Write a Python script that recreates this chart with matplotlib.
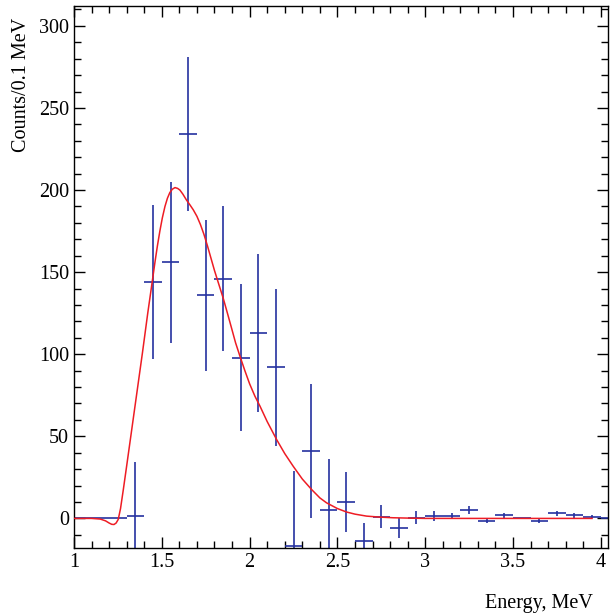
import matplotlib.pyplot as plt
from matplotlib.ticker import MultipleLocator

# Bin centres (MeV), counts and errors per 0.1 MeV
energia = [1.05, 1.15, 1.25, 1.35, 1.45, 1.55, 1.65, 1.75, 1.85, 1.95,
           2.05, 2.15, 2.25, 2.35, 2.45, 2.55, 2.65, 2.75, 2.85, 2.95,
           3.05, 3.15, 3.25, 3.35, 3.45, 3.55, 3.65, 3.75, 3.85, 3.95, 4.05]
contagens = [0, 0, 0, 1.5, 144, 156, 234, 136, 146, 98,
             113, 92, -17, 41, 5, 10, -14, 1, -6, 0.4,
             1.5, 1.5, 5, -1.5, 1.8, 0.3, -1.5, 3, 1.8, 1, 0]
erros = [0, 0, 0, 33, 47, 49, 47, 46, 44, 45,
         48, 48, 46, 41, 31, 18, 11, 7, 6, 4,
         3, 2, 2.5, 1, 1.5, 0, 1, 1.5, 1.5, 1, 0]

# Fit curve
ajuste_x = [1.00, 1.10, 1.15, 1.18, 1.20, 1.215, 1.228, 1.24, 1.252, 1.265,
            1.281, 1.30, 1.33, 1.36, 1.39, 1.42, 1.44, 1.461, 1.475, 1.489,
            1.503, 1.518, 1.532, 1.546, 1.56, 1.575, 1.59, 1.603, 1.62, 1.64,
            1.66, 1.679, 1.70, 1.72, 1.74, 1.76, 1.78, 1.80, 1.825, 1.85,
            1.875, 1.897, 1.92, 1.945, 1.973, 2.00, 2.03, 2.059, 2.10, 2.154,
            2.20, 2.248, 2.30, 2.353, 2.40, 2.438, 2.50, 2.552, 2.60, 2.666,
            2.74, 2.817, 2.90, 3.0, 3.5, 3.95]
ajuste_y = [0, 0, -0.4, -1.5, -2.8, -3.6, -3.7, -2.8, -0.6, 6,
            17.6, 32, 55, 78, 101, 125, 140, 156, 166, 175,
            183, 190, 195, 198.5, 200.5, 201.5, 201, 200, 197.5, 194,
            191, 188, 184, 179, 173, 166, 158.5, 151, 142.5, 134,
            124.5, 116, 107, 98.8, 90, 82, 74.5, 68.4, 59, 48,
            39.5, 31.8, 24, 17.6, 12.5, 9.5, 6, 3.9, 2.6, 1.4,
            0.8, 0.4, 0.2, 0, 0, 0]

def criar_grafico():
    plt.rcParams['font.family'] = ['Liberation Serif', 'DejaVu Serif']
    fig = plt.figure(figsize=(6.14, 6.15), dpi=100)
    ax = fig.add_axes([0.1205, 0.109, 0.8695, 0.881])

    ax.errorbar(energia, contagens, yerr=erros, xerr=0.05, fmt='none',
                ecolor='#25319f', elinewidth=1.2, capsize=0, zorder=2)
    ax.plot(ajuste_x, ajuste_y, color='#ee1c24', lw=1.1, zorder=3)

    ax.set_xlim(1, 4.04)
    ax.set_ylim(-18, 312)
    ax.xaxis.set_minor_locator(MultipleLocator(0.1))
    ax.yaxis.set_major_locator(MultipleLocator(50))
    ax.yaxis.set_minor_locator(MultipleLocator(10))
    ax.set_xticks([1, 1.5, 2, 2.5, 3, 3.5, 4])
    ax.set_xticklabels(['1', '1.5', '2', '2.5', '3', '3.5', '4'])

    ax.tick_params(which='both', direction='in', top=True, right=True,
                   labelsize=14.5, width=1)
    ax.tick_params(which='major', length=8)
    ax.tick_params(which='minor', length=5)
    for s in ax.spines.values():
        s.set_linewidth(1)

    ax.set_xlabel('Energy, MeV', fontsize=14.5)
    ax.xaxis.set_label_coords(0.972, -0.085, transform=ax.transAxes)
    ax.xaxis.label.set_ha('right')
    ax.set_ylabel('Counts/0.1 MeV', fontsize=14.5)
    ax.yaxis.set_label_coords(-0.08, 0.855, transform=ax.transAxes)

    fig.savefig('out.png', dpi=100)

criar_grafico()
